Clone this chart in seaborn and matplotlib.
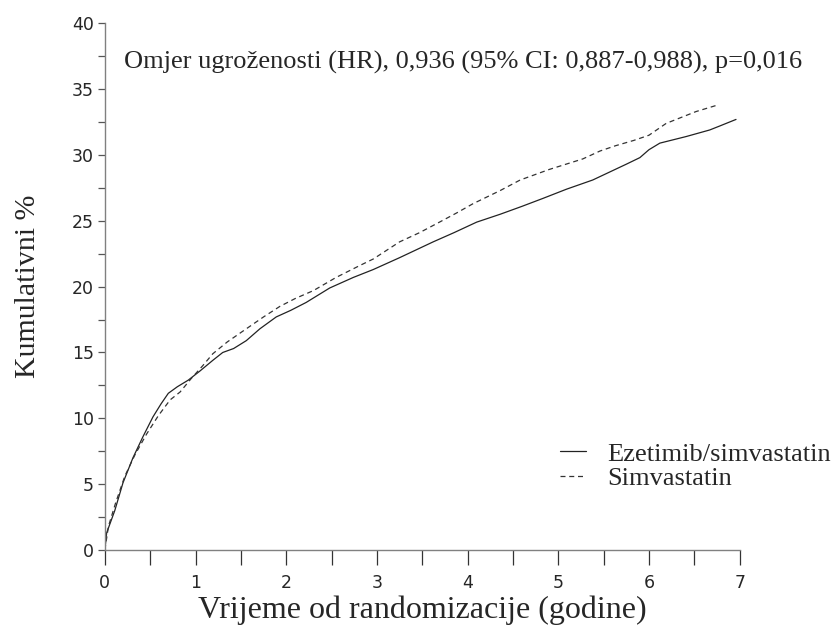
import numpy as np
import pandas as pd
import matplotlib
matplotlib.use("Agg")
import matplotlib.pyplot as plt
import seaborn as sns
from matplotlib.ticker import MultipleLocator
from matplotlib.lines import Line2D

# ---- data ----
eze_time = [0, 0.02, 0.11, 0.20, 0.31, 0.42, 0.53, 0.62, 0.70, 0.80, 0.92, 1.05, 1.19,
            1.30, 1.42, 1.56, 1.71, 1.89, 2.05, 2.22, 2.48, 2.74, 2.96, 3.25, 3.62,
            3.85, 4.10, 4.36, 4.60, 4.83, 5.09, 5.38, 5.75, 5.90, 6.00, 6.12, 6.41,
            6.67, 6.78, 6.96]
eze_pct = [0, 1.3, 3.0, 5.1, 7.0, 8.6, 10.1, 11.1, 11.9, 12.4, 12.9, 13.6, 14.4,
           15.0, 15.3, 15.9, 16.8, 17.7, 18.2, 18.8, 19.9, 20.7, 21.3, 22.2, 23.4,
           24.1, 24.9, 25.5, 26.1, 26.7, 27.4, 28.1, 29.3, 29.8, 30.4, 30.9, 31.4,
           31.9, 32.2, 32.7]
sim_time = [0, 0.04, 0.12, 0.22, 0.33, 0.46, 0.59, 0.72, 0.83, 0.95, 1.08, 1.19, 1.35,
            1.56, 1.75, 1.93, 2.10, 2.30, 2.55, 2.81, 2.96, 3.25, 3.47, 3.69, 3.88,
            4.06, 4.36, 4.58, 4.90, 5.27, 5.46, 5.63, 5.83, 6.00, 6.19, 6.52, 6.76]
sim_pct = [0, 1.8, 3.6, 5.6, 7.2, 8.8, 10.2, 11.4, 12.0, 13.0, 14.0, 14.9, 15.8,
           16.8, 17.7, 18.5, 19.1, 19.7, 20.7, 21.6, 22.1, 23.4, 24.1, 24.9, 25.6,
           26.3, 27.3, 28.1, 28.9, 29.7, 30.3, 30.7, 31.1, 31.5, 32.4, 33.3, 33.8]
series_names = ["Ezetimib/simvastatin", "Simvastatin"]
x_ticks = [0, 1, 2, 3, 4, 5, 6, 7]
y_ticks = [0, 5, 10, 15, 20, 25, 30, 35, 40]
annotation = "Omjer ugroženosti (HR), 0,936 (95% CI: 0,887-0,988), p=0,016"
x_label = "Vrijeme od randomizacije (godine)"
y_label = "Kumulativni %"

df = pd.concat([
    pd.DataFrame({"t": eze_time, "p": eze_pct, "grp": series_names[0]}),
    pd.DataFrame({"t": sim_time, "p": sim_pct, "grp": series_names[1]}),
], ignore_index=True)

sns.set_style("ticks")
plt.rcParams["font.family"] = ["DejaVu Sans"]
serif = "Liberation Serif"

fig = plt.figure(figsize=(8.32, 6.3), dpi=100)
ax = fig.add_axes([0.126, 0.127, 0.763, 0.836])

sns.lineplot(data=df, x="t", y="p", hue="grp", style="grp",
             palette={series_names[0]: "#222222", series_names[1]: "#333333"},
             dashes={series_names[0]: "", series_names[1]: (4, 3)},
             sort=False, estimator=None, linewidth=0.9, ax=ax, legend=False)

ax.set_xlim(0, 7)
ax.set_ylim(0, 40)
ax.set_xticks(x_ticks)
ax.set_yticks(y_ticks)
ax.xaxis.set_minor_locator(MultipleLocator(0.5))
ax.yaxis.set_minor_locator(MultipleLocator(2.5))
ax.tick_params(axis="x", which="both", length=11, width=0.9, color="#333333",
               labelsize=12.5, pad=6)
ax.tick_params(axis="y", which="both", length=5, width=0.9, color="#555555",
               labelsize=12.5, pad=3)
for s in ["top", "right"]:
    ax.spines[s].set_visible(False)
for s in ["left", "bottom"]:
    ax.spines[s].set_color("#808080")
    ax.spines[s].set_linewidth(1.0)

ax.set_xlabel(x_label, family=serif, fontsize=23, labelpad=3)
ax.set_ylabel(y_label, family=serif, fontsize=21.5, labelpad=22)

ax.text(0.03, 0.925, annotation, transform=ax.transAxes, family=serif,
        fontsize=19, va="center", ha="left")

handles = [Line2D([], [], color="#222222", lw=0.9),
           Line2D([], [], color="#333333", lw=0.9, dashes=(4, 3))]
leg = ax.legend(handles, series_names, loc="upper left",
                bbox_to_anchor=(0.70, 0.225), frameon=False,
                prop={"family": serif, "size": 19}, handlelength=1.0,
                handletextpad=0.8, labelspacing=0.05, borderaxespad=0)
leg.set_clip_on(False)

fig.savefig("out.png", dpi=100)
